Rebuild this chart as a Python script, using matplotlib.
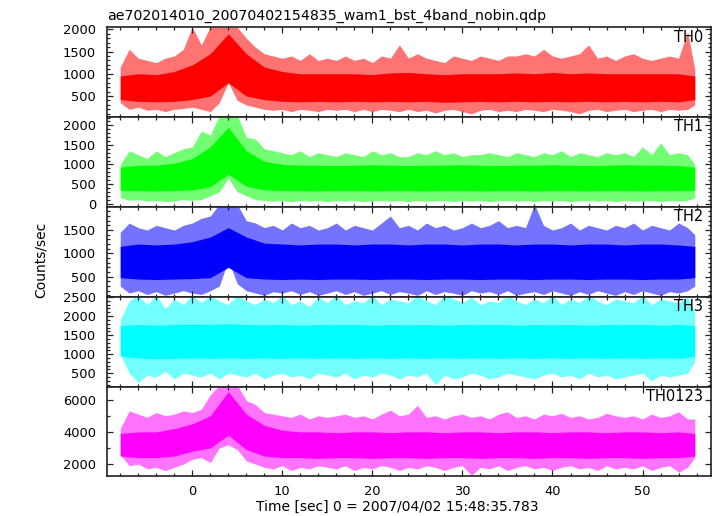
import matplotlib
matplotlib.use("Agg")
import matplotlib.pyplot as plt
from matplotlib.ticker import MultipleLocator

plt.rcParams['font.family'] = ['DejaVu Sans']

TITLE = "ae702014010_20070402154835_wam1_bst_4band_nobin.qdp"
XLABEL = "Time [sec] 0 = 2007/04/02 15:48:35.783"
YLABEL = "Counts/sec"
BANDS = ["TH0", "TH1", "TH2", "TH3", "TH0123"]
COLORS = ["#ff0000", "#00ff00", "#0000ff", "#00ffff", "#ff00ff"]

# time grid of envelope samples (sec)
T = [-8, -7, -6, -5, -4, -3, -2, -1, 0, 1, 2, 3, 4, 5, 6, 7, 8, 9, 10, 11, 12,
     13, 14, 15, 16, 17, 18, 19, 20, 21, 22, 23, 24, 25, 26, 27, 28, 29, 30,
     31, 32, 33, 34, 35, 36, 37, 38, 39, 40, 41, 42, 43, 44, 45, 46, 47, 48,
     49, 50, 51, 52, 53, 54, 55, 55.8]
# time grid of the dense core samples (sec)
TC = [-8, -6, -4, -2, 0, 2, 4, 6, 8, 10, 12, 14, 16, 18, 20, 22, 24, 26, 28,
      30, 32, 34, 36, 38, 40, 42, 44, 46, 48, 50, 52, 54, 55.8]

# ---- TH0 (spike tops / spike bottoms / dense core) ----
TH0_HI = [1150, 1550, 1350, 1300, 1250, 1350, 1400, 1550,
          2050, 1650, 2050, 2050, 2050, 2050, 1800, 1600,
          1450, 1400, 1350, 1400, 1300, 1450, 1300, 1350,
          1300, 1400, 1300, 1350, 1250, 1400, 1350, 1650,
          1350, 1450, 1350, 1300, 1250, 1400, 1350, 1300,
          1400, 1350, 1300, 1400, 1400, 1450, 1400, 1550,
          1400, 1350, 1400, 1450, 1650, 1350, 1400, 1300,
          1400, 1450, 1350, 1300, 1350, 1400, 1350, 1950, 1100]
TH0_LO = [350, 200, 250, 180, 200, 150, 200, 220,
          250, 200, 150, 350, 800, 400, 300, 250,
          200, 180, 200, 150, 200, 180, 150, 200,
          180, 200, 150, 200, 150, 200, 180, 150,
          200, 150, 180, 120, 180, 200, 150, 100,
          180, 200, 150, 180, 150, 200, 180, 150,
          200, 180, 150, 100, 180, 200, 150, 180,
          200, 150, 180, 200, 150, 200, 180, 200, 300]
TH0_CLO = [420, 380, 370, 380, 420, 500, 800, 500, 420, 380, 370, 380, 370,
           380, 370, 380, 370, 380, 360, 370, 380, 370, 380, 370, 380, 370,
           380, 370, 380, 370, 380, 370, 420]
TH0_CHI = [950, 1000, 980, 1050, 1200, 1450, 1900, 1450, 1150, 1050, 1000,
           1000, 1000, 1000, 980, 1020, 1030, 1000, 980, 1000, 1000, 1000,
           1020, 1000, 1030, 1000, 1020, 1000, 1000, 1000, 1000, 1000, 950]

# ---- TH1 ----
TH1_HI = [1000, 1350, 1250, 1150, 1350, 1200, 1300, 1400,
          1450, 1850, 1750, 2250, 2250, 2250, 1700, 1650,
          1400, 1350, 1300, 1250, 1350, 1200, 1300, 1250,
          1200, 1300, 1250, 1200, 1350, 1250, 1300, 1200,
          1200, 1300, 1250, 1350, 1250, 1300, 1200, 1250,
          1250, 1300, 1250, 1200, 1300, 1250, 1200, 1300,
          1250, 1350, 1200, 1300, 1250, 1200, 1300, 1250,
          1300, 1200, 1450, 1250, 1550, 1250, 1300, 1250, 1000]
TH1_LO = [150, 80, 100, 60, 80, 50, 70, 100,
          80, 100, 200, 300, 650, 300, 200, 100,
          80, 60, 80, 50, 80, 60, 80, 50,
          80, 60, 80, 50, 70, 80, 60, 80,
          50, 80, 60, 70, 80, 50, 80, 60,
          80, 50, 70, 80, 60, 80, 50, 80,
          60, 80, 50, 70, 80, 60, 80, 50,
          80, 60, 70, 80, 50, 80, 60, 80, 150]
TH1_CLO = [340, 330, 320, 330, 350, 430, 750, 440, 350, 330, 330, 320, 330,
           330, 320, 330, 330, 320, 330, 330, 320, 330, 330, 320, 330, 330,
           320, 330, 330, 320, 330, 330, 340]
TH1_CHI = [930, 980, 980, 1030, 1150, 1450, 1950, 1350, 1080, 1000, 980,
           980, 970, 980, 990, 980, 970, 980, 980, 990, 980, 970, 980, 980,
           990, 980, 970, 980, 990, 980, 980, 970, 930]

# ---- TH2 ----
TH2_HI = [1450, 1650, 1550, 1500, 1600, 1550, 1500, 1600,
          1650, 1750, 1800, 2050, 2050, 2050, 1700, 1650,
          1550, 1600, 1500, 1650, 1550, 1600, 1500, 1550,
          1650, 1500, 1600, 1550, 1500, 1650, 1800, 1550,
          1600, 1500, 1650, 1550, 1600, 1500, 1550, 1650,
          1550, 1600, 1700, 1550, 1600, 1550, 2050, 1600,
          1500, 1550, 1650, 1500, 1600, 1550, 1500, 1600,
          1550, 1650, 1500, 1600, 1550, 1500, 1650, 1550, 1400]
TH2_LO = [300, 150, 200, 120, 180, 100, 150, 200,
          150, 120, 200, 300, 850, 350, 200, 150,
          100, 180, 150, 200, 120, 180, 100, 150,
          200, 120, 180, 100, 150, 200, 120, 180,
          150, 100, 200, 120, 180, 150, 100, 200,
          150, 180, 120, 200, 100, 150, 180, 120,
          200, 150, 100, 180, 120, 200, 150, 100,
          180, 120, 200, 150, 100, 180, 150, 200, 300]
TH2_CLO = [480, 450, 440, 450, 460, 480, 700, 480, 450, 440, 450, 440, 450,
           450, 440, 450, 450, 440, 450, 450, 440, 450, 450, 440, 450, 450,
           440, 450, 450, 440, 450, 450, 480]
TH2_CHI = [1150, 1200, 1180, 1200, 1250, 1350, 1550, 1350, 1220, 1200, 1180,
           1200, 1200, 1180, 1200, 1200, 1180, 1200, 1200, 1180, 1200, 1200,
           1180, 1200, 1200, 1180, 1200, 1200, 1180, 1200, 1200, 1180, 1150]

# ---- TH3 ----
TH3_HI = [1900, 2400, 2550, 2300, 2550, 2200, 2450, 2300,
          2550, 2350, 2550, 2400, 2300, 2550, 2400, 2300,
          2450, 2350, 2550, 2300, 2400, 2250, 2500, 2350,
          2550, 2300, 2400, 2350, 2550, 2300, 2450, 2400,
          2350, 2550, 2400, 2300, 2550, 2450, 2350, 2500,
          2300, 2400, 2350, 2550, 2400, 2300, 2450, 2350,
          2550, 2300, 2450, 2350, 2550, 2400, 2300, 2450,
          2400, 2350, 2550, 2300, 2450, 2400, 2350, 2500, 2100]
TH3_LO = [1000, 500, 250, 450, 400, 550, 350, 500,
          450, 400, 500, 350, 500, 450, 400, 500,
          350, 450, 500, 400, 450, 350, 500, 450,
          400, 500, 350, 450, 400, 500, 450, 350,
          450, 400, 500, 200, 450, 350, 400, 500,
          450, 350, 400, 500, 450, 400, 350, 450,
          500, 400, 450, 350, 500, 400, 450, 350,
          400, 450, 500, 300, 450, 400, 450, 500, 800]
TH3_CLO = [950, 900, 880, 890, 900, 890, 900, 890, 900, 890, 900, 890, 900,
           890, 900, 890, 900, 890, 900, 890, 900, 890, 900, 890, 900, 890,
           900, 890, 900, 890, 900, 890, 950]
TH3_CHI = [1750, 1780, 1760, 1780, 1790, 1780, 1800, 1780, 1770, 1780, 1760,
           1780, 1770, 1780, 1760, 1780, 1770, 1780, 1760, 1780, 1770, 1780,
           1760, 1780, 1770, 1780, 1760, 1780, 1770, 1780, 1760, 1780, 1750]

# ---- TH0123 ----
T0123_HI = [4200, 5300, 5100, 4900, 5200, 5000, 5100, 5300,
            5200, 5400, 6300, 6900, 6900, 6900, 5950, 5700,
            5200, 5100, 5000, 4900, 5100, 4800, 5000, 4900,
            5000, 5100, 4900, 5000, 4800, 5100, 5350, 5000,
            5100, 5650, 4900, 5000, 4800, 5000, 5100, 4900,
            5000, 4800, 5100, 5250, 4900, 5000, 4800, 5100,
            5000, 5150, 4900, 5000, 4800, 4900, 5150, 5000,
            4900, 5000, 4800, 5100, 4900, 5000, 5250, 4800, 4800]
T0123_LO = [2600, 1900, 2000, 1700, 1800, 1600, 1800, 2000,
            2300, 2400, 2100, 3000, 3200, 2900, 2200, 2000,
            1800, 1700, 1900, 1600, 1800, 1700, 1900, 1800,
            1700, 1900, 1600, 1800, 1700, 1900, 1800, 1600,
            1800, 1700, 1900, 1800, 1600, 1800, 1900, 1300,
            1800, 1700, 1900, 1600, 1800, 1900, 1700, 1800,
            1600, 1800, 1900, 1700, 1800, 1600, 1900, 1700,
            1800, 1700, 1900, 1600, 1800, 1900, 1500, 1800, 2400]
T0123_CLO = [2500, 2400, 2400, 2500, 2800, 3000, 3800, 2900, 2500, 2400,
             2400, 2350, 2400, 2400, 2350, 2400, 2400, 2350, 2400, 2400,
             2350, 2400, 2400, 2350, 2400, 2400, 2350, 2400, 2400, 2350,
             2400, 2400, 2500]
T0123_CHI = [3900, 4000, 4000, 4200, 4500, 5000, 6500, 5100, 4400, 4100,
             4000, 4000, 3950, 4000, 4000, 3950, 4000, 4000, 3950, 4000,
             4000, 3950, 4000, 4000, 3950, 4000, 4000, 3950, 4000, 4000,
             3950, 4000, 3900]

HI = [TH0_HI, TH1_HI, TH2_HI, TH3_HI, T0123_HI]
LO = [TH0_LO, TH1_LO, TH2_LO, TH3_LO, T0123_LO]
CLO = [TH0_CLO, TH1_CLO, TH2_CLO, TH3_CLO, T0123_CLO]
CHI = [TH0_CHI, TH1_CHI, TH2_CHI, TH3_CHI, T0123_CHI]

YLIMS = [(26, 2045), (-87, 2212), (72, 1995), (150, 2510), (1240, 6820)]
YMAJOR = [500, 500, 500, 500, 2000]
YMINOR = [100, 100, 100, 100, 1000]
XLIM = (-9.5, 57.6)

W, H = 717, 516
fig = plt.figure(figsize=(W / 100, H / 100), dpi=100)
top_px, bot_px, left_px, right_px = 27.3, 476.3, 106.7, 711.0
ph = (bot_px - top_px) / 5
axes = []
for i in range(5):
    y0 = 1 - (top_px + ph * (i + 1)) / H
    ax = fig.add_axes([left_px / W, y0, (right_px - left_px) / W, ph / H])
    axes.append(ax)

for i, ax in enumerate(axes):
    c = COLORS[i]
    ax.fill_between(T, LO[i], HI[i], color=c, alpha=0.55, lw=0)
    ax.fill_between(TC, CLO[i], CHI[i], color=c, lw=0)
    ax.set_xlim(*XLIM)
    ax.set_ylim(*YLIMS[i])
    ax.xaxis.set_major_locator(MultipleLocator(10))
    ax.xaxis.set_minor_locator(MultipleLocator(2))
    ax.yaxis.set_major_locator(MultipleLocator(YMAJOR[i]))
    ax.yaxis.set_minor_locator(MultipleLocator(YMINOR[i]))
    ax.tick_params(which='both', direction='in', top=True, right=True,
                   width=0.9, color='#222222', labelsize=9.4, pad=7.7)
    ax.tick_params(which='major', length=4.3)
    ax.tick_params(which='minor', length=2.4)
    ax.tick_params(axis='x', pad=6.3)
    for s in ax.spines.values():
        s.set_linewidth(1.2)
        s.set_color('#222222')
        s.set_zorder(5)
    if i < 4:
        ax.tick_params(axis='x', labelbottom=False)
    ax.text(0.987, 0.975, BANDS[i], transform=ax.transAxes, ha='right',
            va='top', fontsize=10.5, zorder=6)

fig.text(107.3 / W, 1 - 20 / H, TITLE, ha='left', va='baseline', fontsize=10.2)
fig.text(41 / W, 1 - 260 / H, YLABEL, rotation=90, ha='center', va='center',
         fontsize=10)
fig.text(397.5 / W, 1 - 511 / H, XLABEL, ha='center', va='baseline',
         fontsize=10)

fig.savefig("out.png", dpi=100)
